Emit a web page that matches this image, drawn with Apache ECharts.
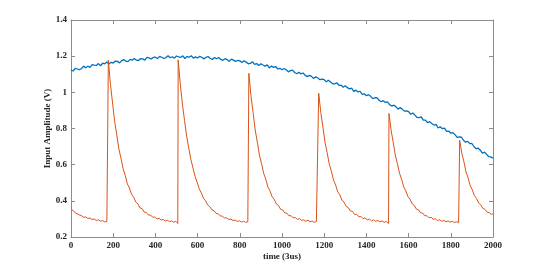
<!DOCTYPE html>
<html>
<head>
<meta charset="utf-8">
<script src="https://cdn.jsdelivr.net/npm/echarts@6/dist/echarts.min.js"></script>
<style>
html,body{margin:0;padding:0;background:#fff;}
#chart{width:545px;height:266px;}
</style>
</head>
<body>
<div id="chart"></div>
<script>
// x ticks / y ticks
const xTicks = [0,200,400,600,800,1000,1200,1400,1600,1800,2000];
const yTicks = [0.2,0.4,0.6,0.8,1.0,1.2,1.4];
const xName = 'time (3us)';
const yName = 'Input Amplitude (V)';

// blue series: sampled every 10 time units from 0 to 2000
const blueStep = 10;
const blueValues = [
1.123,1.118,1.133,1.129,1.125,1.132,1.145,1.136,1.144,1.138,
1.153,1.150,1.149,1.159,1.147,1.161,1.158,1.168,1.157,1.166,
1.162,1.173,1.171,1.163,1.175,1.181,1.172,1.170,1.182,1.178,
1.187,1.178,1.176,1.187,1.185,1.178,1.193,1.190,1.185,1.193,
1.194,1.187,1.199,1.194,1.187,1.192,1.202,1.191,1.197,1.189,
1.201,1.196,1.193,1.202,1.187,1.199,1.194,1.202,1.189,1.196,
1.190,1.199,1.194,1.185,1.194,1.198,1.187,1.182,1.193,1.186,
1.193,1.182,1.177,1.186,1.181,1.171,1.184,1.178,1.171,1.176,
1.175,1.165,1.175,1.167,1.158,1.160,1.169,1.155,1.159,1.148,
1.158,1.151,1.145,1.152,1.135,1.145,1.138,1.143,1.129,1.133,
1.125,1.132,1.125,1.113,1.120,1.123,1.110,1.103,1.111,1.102,
1.107,1.094,1.087,1.094,1.088,1.076,1.086,1.079,1.070,1.073,
1.070,1.058,1.067,1.057,1.047,1.047,1.053,1.038,1.040,1.028,
1.036,1.026,1.019,1.023,1.005,1.012,1.002,1.006,0.989,0.992,
0.981,0.987,0.978,0.965,0.970,0.971,0.956,0.948,0.954,0.944,
0.947,0.932,0.924,0.929,0.921,0.907,0.916,0.907,0.896,0.898,
0.893,0.879,0.886,0.874,0.861,0.860,0.864,0.846,0.846,0.832,
0.838,0.828,0.819,0.823,0.803,0.810,0.799,0.802,0.784,0.786,
0.774,0.777,0.766,0.751,0.754,0.752,0.735,0.724,0.729,0.716,
0.717,0.699,0.688,0.691,0.680,0.663,0.669,0.657,0.644,0.643,
0.635
];

// orange series: [time, value]
const orangeData = [
[0,0.352],[5,0.344],[10,0.347],[20,0.333],[30,0.328],[40,0.321],[50,0.318],[60,0.309],[70,0.311],[80,0.302],
[90,0.305],[100,0.296],[110,0.300],[120,0.291],[130,0.295],[140,0.287],[150,0.291],[160,0.283],[170,0.286],[175,0.276],
[177,1.178],[187,1.043],[197,0.941],[207,0.838],[217,0.764],[227,0.686],[237,0.635],[247,0.577],[257,0.541],[267,0.494],
[277,0.471],[287,0.436],[297,0.420],[307,0.393],[317,0.384],[327,0.361],[337,0.357],[347,0.338],[357,0.336],[367,0.321],
[377,0.322],[387,0.309],[397,0.311],[407,0.299],[417,0.304],[427,0.294],[437,0.297],[447,0.288],[457,0.293],[467,0.285],
[477,0.289],[487,0.282],[497,0.287],[506,0.275],
[508,1.180],[518,1.046],[528,0.935],[538,0.845],[548,0.758],[558,0.693],[568,0.629],[578,0.582],[588,0.535],[598,0.502],
[608,0.465],[618,0.443],[628,0.414],[638,0.399],[648,0.377],[658,0.368],[668,0.350],[678,0.345],[688,0.330],[698,0.328],
[708,0.316],[718,0.315],[728,0.305],[738,0.306],[748,0.297],[758,0.299],[768,0.291],[778,0.294],[788,0.286],[798,0.290],
[808,0.283],[818,0.287],[828,0.281],[838,0.284],[841,0.276],
[843,1.105],[853,0.982],[863,0.888],[873,0.792],[883,0.725],[893,0.653],[903,0.607],[913,0.552],[923,0.520],[933,0.477],
[943,0.455],[953,0.423],[963,0.409],[973,0.383],[983,0.375],[993,0.354],[1003,0.350],[1013,0.333],[1023,0.332],[1033,0.317],
[1043,0.318],[1053,0.306],[1063,0.308],[1073,0.297],[1083,0.302],[1093,0.292],[1103,0.295],[1113,0.287],[1123,0.293],[1133,0.284],
[1143,0.288],[1153,0.281],[1163,0.286],[1172,0.276],
[1174,0.995],[1184,0.888],[1194,0.807],[1204,0.723],[1214,0.666],[1224,0.603],[1234,0.564],[1244,0.515],[1254,0.488],[1264,0.450],
[1274,0.433],[1284,0.403],[1294,0.393],[1304,0.369],[1314,0.363],[1324,0.344],[1334,0.342],[1344,0.325],[1354,0.326],[1364,0.312],
[1374,0.314],[1384,0.302],[1394,0.306],[1404,0.294],[1414,0.300],[1424,0.289],[1434,0.295],[1444,0.286],[1454,0.292],[1464,0.283],
[1474,0.289],[1484,0.281],[1494,0.286],[1505,0.275],
[1507,0.883],[1517,0.791],[1527,0.724],[1537,0.653],[1547,0.606],[1557,0.552],[1567,0.519],[1577,0.477],[1587,0.455],[1597,0.423],
[1607,0.409],[1617,0.383],[1627,0.375],[1637,0.354],[1647,0.350],[1657,0.333],[1667,0.332],[1677,0.317],[1687,0.318],[1697,0.306],
[1707,0.309],[1717,0.298],[1727,0.301],[1737,0.291],[1747,0.296],[1757,0.287],[1767,0.292],[1777,0.284],[1787,0.289],[1797,0.282],
[1807,0.287],[1817,0.280],[1827,0.285],[1837,0.279],[1840,0.275],
[1842,0.735],[1852,0.664],[1862,0.617],[1872,0.560],[1882,0.527],[1892,0.484],[1902,0.461],[1912,0.428],[1922,0.413],[1932,0.388],
[1942,0.378],[1952,0.358],[1962,0.353],[1972,0.337],[1982,0.335],[1992,0.325],[2000,0.328]
];

const blueData = blueValues.map((v, i) => [i * blueStep, v]);

const fontFam = '"Liberation Serif", "Times New Roman", serif';
const axisColor = '#8c8c8c';
const labelColor = '#262626';

const chart = echarts.init(document.getElementById('chart'), null, {renderer: 'canvas'});
const xMin = xTicks[0], xMax = xTicks[xTicks.length-1], xInt = xTicks[1]-xTicks[0];
const yMin = yTicks[0], yMax = yTicks[yTicks.length-1], yInt = 0.2;

function xAx(pos, show) {
  return {
    type: 'value', position: pos, min: xMin, max: xMax, interval: xInt,
    name: show ? xName : '', nameLocation: 'middle', nameGap: 15, nameMoveOverlap: false,
    nameTextStyle: {fontFamily: fontFam, fontWeight: 'bold', fontSize: 9, color: labelColor},
    axisLine: {show: true, onZero: false, lineStyle: {color: axisColor, width: 1}},
    axisTick: {show: true, inside: true, length: 4, lineStyle: {color: axisColor}},
    axisLabel: {show: show, fontFamily: fontFam, fontWeight: 'bold', fontSize: 9, color: labelColor, margin: 4,
      formatter: v => String(v)},
    splitLine: {show: false}
  };
}
function yAx(pos, show) {
  return {
    type: 'value', position: pos, min: yMin, max: yMax, interval: yInt,
    name: show ? yName : '', nameLocation: 'middle', nameGap: 19, nameMoveOverlap: false,
    nameTextStyle: {fontFamily: fontFam, fontWeight: 'bold', fontSize: 9, color: labelColor},
    axisLine: {show: true, onZero: false, lineStyle: {color: axisColor, width: 1}},
    axisTick: {show: true, inside: true, length: 4, lineStyle: {color: axisColor}},
    axisLabel: {show: show, fontFamily: fontFam, fontWeight: 'bold', fontSize: 9, color: labelColor, margin: 4,
      formatter: v => String(parseFloat(v.toFixed(1)))},
    splitLine: {show: false}
  };
}

chart.setOption({
  animation: false,
  backgroundColor: '#fff',
  grid: {left: 71, right: 52, top: 20, bottom: 29, containLabel: false},
  xAxis: [xAx('bottom', true), xAx('top', false)],
  yAxis: [yAx('left', true), yAx('right', false)],
  series: [
    {type: 'line', data: blueData, xAxisIndex: 0, yAxisIndex: 0, showSymbol: false, symbol: 'none',
     lineStyle: {color: '#0072BD', width: 1.3}, z: 2},
    {type: 'line', data: orangeData, xAxisIndex: 0, yAxisIndex: 0, showSymbol: false, symbol: 'none',
     lineStyle: {color: '#D95319', width: 1}, z: 3}
  ]
});
</script>
</body>
</html>
